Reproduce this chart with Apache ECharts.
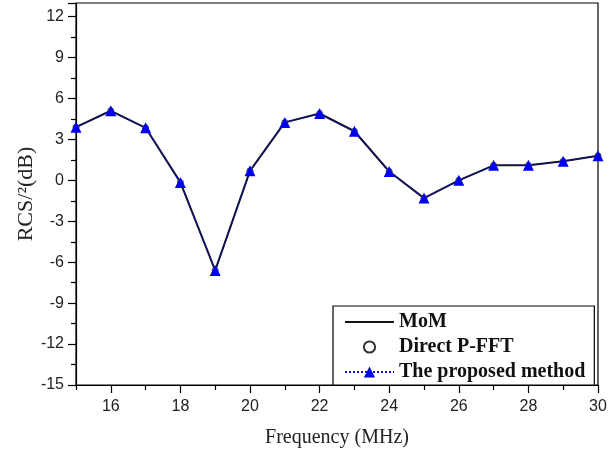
<!DOCTYPE html>
<html><head><meta charset="utf-8">
<script src="https://cdn.jsdelivr.net/npm/echarts@6/dist/echarts.min.js"></script>
<style>html,body{margin:0;padding:0;background:#fff}#c{width:613px;height:452px}</style>
</head><body><div id="c"></div>
<script>
const freq = [15,16,17,18,19,20,21,22,23,24,25,26,27,28,29,30];
const mom = [3.9,5.1,3.85,-0.15,-6.6,0.7,4.25,4.9,3.6,0.65,-1.3,0.0,1.1,1.1,1.4,1.8];
const pfft = [3.9,5.1,3.85,-0.15,-6.6,0.7,4.25,4.9,3.6,0.65,-1.3,0.0,1.1,1.1,1.4,1.8];
const proposed = [3.9,5.1,3.85,-0.15,-6.6,0.7,4.25,4.9,3.6,0.65,-1.3,0.0,1.1,1.1,1.4,1.8];
const xMajor = [16,18,20,22,24,26,28,30];
const xMinor = [15,17,19,21,23,25,27,29];
const names = ['MoM','Direct P-FFT','The proposed method'];

const pair = (ys) => freq.map((f,i)=>[f,ys[i]]);
const chart = echarts.init(document.getElementById('c'));
chart.setOption({
  animation:false,
  backgroundColor:'#fff',
  grid:{left:76,right:15,top:3,bottom:67,outerBoundsMode:'none',containLabel:false,show:true,borderColor:'#000',borderWidth:1.2,backgroundColor:'transparent'},
  xAxis:[{
    type:'value',min:15,max:30,
    name:'Frequency (MHz)',nameLocation:'middle',nameGap:43,nameMoveOverlap:false,
    nameTextStyle:{fontFamily:'Liberation Serif',fontSize:20,color:'#222'},
    axisLine:{onZero:false,lineStyle:{color:'#000',width:1.2}},
    axisTick:{show:true,length:8,inside:false,customValues:xMajor,lineStyle:{color:'#000',width:1.2}},
    axisLabel:{customValues:xMajor,fontFamily:'Liberation Sans',fontSize:16,color:'#222',margin:14},
    splitLine:{show:false}
  },{
    type:'value',min:15,max:30,position:'bottom',
    axisLine:{show:false,onZero:false},
    axisTick:{show:true,length:5,customValues:xMinor,lineStyle:{color:'#000',width:1.2}},
    axisLabel:{show:false},splitLine:{show:false}
  }],
  yAxis:{
    type:'value',min:-15,max:13,interval:3,
    name:'RCS/\u00B2(dB)',nameLocation:'middle',nameGap:39,nameMoveOverlap:false,
    nameTextStyle:{fontFamily:'Liberation Serif',fontSize:22,color:'#222'},
    axisLine:{lineStyle:{color:'#000',width:1.2}},
    axisTick:{length:8,lineStyle:{color:'#000',width:1.2}},
    minorTick:{show:true,splitNumber:2,length:5,lineStyle:{color:'#000',width:1.2}},
    axisLabel:{showMaxLabel:false,fontFamily:'Liberation Sans',fontSize:16,color:'#222',margin:12},
    splitLine:{show:false}
  },
  legend:{
    left:333,top:306,orient:'vertical',
    backgroundColor:'#fff',borderColor:'#000',borderWidth:1.2,
    padding:[6,9,3,11],itemGap:5,itemWidth:49,itemHeight:14,
    textStyle:{fontFamily:'Liberation Serif',fontWeight:'bold',fontSize:20,lineHeight:20,color:'#111'},
    data:[
      {name:names[0],itemStyle:{opacity:0}},
      {name:names[1]},
      {name:names[2]}
    ]
  },
  series:[
    {name:names[0],type:'line',data:pair(mom),symbol:'none',
     lineStyle:{color:'#111',width:2},itemStyle:{color:'#111'},z:2},
    {name:names[1],type:'line',data:pair(pfft),symbol:'circle',symbolSize:6,showSymbol:true,
     lineStyle:{width:0,opacity:0},itemStyle:{color:'#fff',borderColor:'#333',borderWidth:1},z:3},
    {name:names[2],type:'line',data:pair(proposed),symbol:'triangle',symbolSize:11,
     lineStyle:{color:'#1010e0',width:1.2,type:'dotted'},itemStyle:{color:'#0000ee',borderWidth:0},z:4}
  ]
});
</script></body></html>
